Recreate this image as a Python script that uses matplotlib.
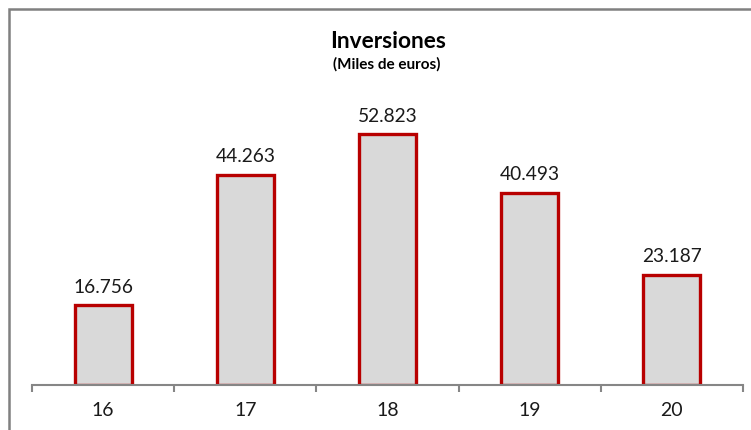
import matplotlib.pyplot as plt
import matplotlib.patches as patches
import numpy as np

# datos del grafico
anios = ['16', '17', '18', '19', '20']
inversiones = [16.756, 44.263, 52.823, 40.493, 23.187]
etiquetas = ['16.756', '44.263', '52.823', '40.493', '23.187']

plt.rcParams['font.family'] = ['Lato', 'DejaVu Sans']

fig = plt.figure(figsize=(7.51, 4.30), dpi=100)
ax = fig.add_axes([32/751, 45/430, 711/751, 285/430])

x = np.arange(len(anios))
ax.bar(x, inversiones, width=0.4, color='#D9D9D9', edgecolor='#B80000', linewidth=2.4)

for xi, v, t in zip(x, inversiones, etiquetas):
    ax.text(xi, v + 2.0, t, ha='center', va='bottom', fontsize=13.8, color='#1a1a1a')

ax.set_xlim(-0.5, len(anios) - 0.5)
ax.set_ylim(0, 60)

# eje x con marcas entre categorias
ax.set_xticks(np.arange(-0.5, len(anios)), minor=False)
ax.set_xticklabels([])
ax.set_xticks(x, minor=True)
ax.set_xticklabels(anios, minor=True, fontsize=14, color='#1a1a1a')
ax.tick_params(axis='x', which='major', length=5, width=1.5, color='#868686', direction='out')
ax.tick_params(axis='x', which='minor', length=0, pad=12)
ax.set_yticks([])
for s in ['top', 'right', 'left']:
    ax.spines[s].set_visible(False)
ax.spines['bottom'].set_color('#868686')
ax.spines['bottom'].set_linewidth(1.5)

# titulo
fig.text(388/751, 1 - 42/430, 'Inversiones', ha='center', va='center', fontsize=16.4, fontweight='bold')
fig.text(387/751, 1 - 64/430, '(Miles de euros)', ha='center', va='center', fontsize=11, fontweight='bold')

# borde del grafico
borde = patches.Rectangle((9/751, -0.1), 1.2, 1 - 9/430 + 0.1, transform=fig.transFigure,
                          fill=False, edgecolor='#808080', linewidth=1.8)
fig.patches.append(borde)

fig.savefig('out.png', dpi=100)
